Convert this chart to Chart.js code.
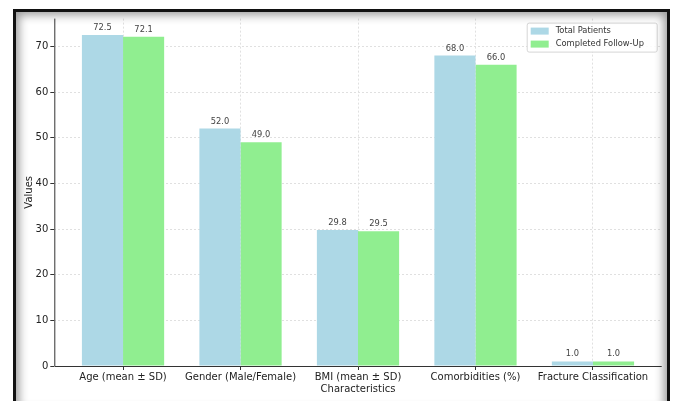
<!DOCTYPE html>
<html>
<head>
<meta charset="utf-8">
<script src="https://cdn.jsdelivr.net/npm/chart.js@4.4.1/dist/chart.umd.min.js"></script>
<style>
  html, body { margin: 0; padding: 0; background: #fff; }
  #wrap { position: relative; width: 673px; height: 401px; overflow: hidden; }
  #chart { position: absolute; left: 0; top: 0; }
  #frame {
    position: absolute; left: 13px; top: 9px; width: 651px; height: 400px;
    border: 3px solid #111; pointer-events: none;
    box-shadow: inset 0 0 10px 3px rgba(0, 0, 0, 0.4);
  }
</style>
</head>
<body>
<div id="wrap">
  <canvas id="chart" width="673" height="401"></canvas>
  <div id="frame"></div>
</div>
<script>
const categories = [
  "Age (mean ± SD)",
  "Gender (Male/Female)",
  "BMI (mean ± SD)",
  "Comorbidities (%)",
  "Fracture Classification",
];
const totalPatients = [72.5, 52.0, 29.8, 68.0, 1.0];
const completedFollowUp = [72.1, 49.0, 29.5, 66.0, 1.0];
const yTicks = [0, 10, 20, 30, 40, 50, 60, 70];

const FONT = "'DejaVu Sans', sans-serif";
const BLUE = "#ADD8E6";
const GREEN = "#90EE90";
const GRID = "#e0e0e0";

// étiquettes de valeur au-dessus des barres
const valueLabels = {
  id: "valueLabels",
  afterDatasetsDraw(chart) {
    const ctx = chart.ctx;
    ctx.save();
    ctx.font = "8.3px " + FONT;
    ctx.fillStyle = "#444";
    ctx.textAlign = "center";
    ctx.textBaseline = "bottom";
    chart.data.datasets.forEach((ds, i) => {
      chart.getDatasetMeta(i).data.forEach((bar, j) => {
        ctx.fillText(ds.data[j].y.toFixed(1), bar.x, bar.y - 3);
      });
    });
    ctx.restore();
  },
};

// axes gauche et bas en trait plein (la grille est en pointillés)
const solidAxes = {
  id: "solidAxes",
  beforeDatasetsDraw(chart) {
    const ctx = chart.ctx;
    const a = chart.chartArea;
    ctx.save();
    ctx.strokeStyle = "#333";
    ctx.lineWidth = 1;
    ctx.setLineDash([]);
    ctx.beginPath();
    ctx.moveTo(a.left + 0.5, a.top);
    ctx.lineTo(a.left + 0.5, a.bottom + 0.5);
    ctx.lineTo(a.right, a.bottom + 0.5);
    ctx.stroke();
    ctx.restore();
  },
};

// légende encadrée en haut à droite
const boxLegend = {
  id: "boxLegend",
  afterDraw(chart) {
    const ctx = chart.ctx;
    const area = chart.chartArea;
    const w = 130, h = 29;
    const x = area.right - 5 - w, y = area.top + 4;
    ctx.save();
    ctx.fillStyle = "rgba(255,255,255,0.85)";
    ctx.strokeStyle = "#d5d5d5";
    ctx.lineWidth = 1;
    ctx.beginPath();
    ctx.roundRect(x + 0.5, y + 0.5, w, h, 2);
    ctx.fill();
    ctx.stroke();
    ctx.font = "8.3px " + FONT;
    ctx.textBaseline = "middle";
    chart.data.datasets.forEach((ds, i) => {
      const cy = y + 8.5 + i * 13;
      ctx.fillStyle = ds.backgroundColor;
      ctx.fillRect(x + 4, cy - 3.5, 18, 7);
      ctx.fillStyle = "#333";
      ctx.fillText(ds.label, x + 29, cy);
    });
    ctx.restore();
  },
};

const ctx = document.getElementById("chart").getContext("2d");
new Chart(ctx, {
  type: "bar",
  data: {
    datasets: [
      {
        label: "Total Patients",
        data: totalPatients.map((v, i) => ({ x: i, y: v })),
        backgroundColor: BLUE,
      },
      {
        label: "Completed Follow-Up",
        data: completedFollowUp.map((v, i) => ({ x: i, y: v })),
        backgroundColor: GREEN,
      },
    ],
  },
  options: {
    responsive: false,
    animation: false,
    devicePixelRatio: 1,
    categoryPercentage: 0.7,
    barPercentage: 1.0,
    layout: { padding: { left: 0, top: 18.6, right: 11.3, bottom: 0 } },
    plugins: {
      legend: { display: false },
      tooltip: { enabled: false },
    },
    scales: {
      x: {
        type: "linear",
        min: -0.585,
        max: 4.585,
        offset: false,
        afterBuildTicks: (scale) => {
          scale.ticks = categories.map((c, i) => ({ value: i }));
        },
        afterFit: (scale) => {
          scale.height = 35;
        },
        ticks: {
          autoSkip: false,
          maxRotation: 0,
          padding: 1,
          color: "#222",
          font: { family: FONT, size: 10 },
          callback: (v) => categories[v],
        },
        grid: {
          offset: false,
          color: GRID,
          tickColor: "#333",
          tickBorderDash: [],
          tickLength: 4,
        },
        border: { display: false, dash: [2, 2] },
        title: {
          display: true,
          text: "Characteristics",
          color: "#222",
          font: { family: FONT, size: 10 },
          padding: { top: 0, bottom: 6 },
        },
      },
      y: {
        min: 0,
        max: 76.1,
        afterBuildTicks: (scale) => {
          scale.ticks = yTicks.map((v) => ({ value: v }));
        },
        afterFit: (scale) => {
          scale.width = 54.3;
        },
        ticks: {
          padding: 2,
          color: "#222",
          font: { family: FONT, size: 10 },
        },
        grid: {
          color: GRID,
          tickColor: "#333",
          tickBorderDash: [],
          tickLength: 4,
        },
        border: { display: false, dash: [2, 2] },
        title: {
          display: true,
          text: "Values",
          color: "#222",
          font: { family: FONT, size: 10 },
          padding: { top: 23, bottom: 0 },
        },
      },
    },
  },
  plugins: [valueLabels, solidAxes, boxLegend],
});
</script>
</body>
</html>
